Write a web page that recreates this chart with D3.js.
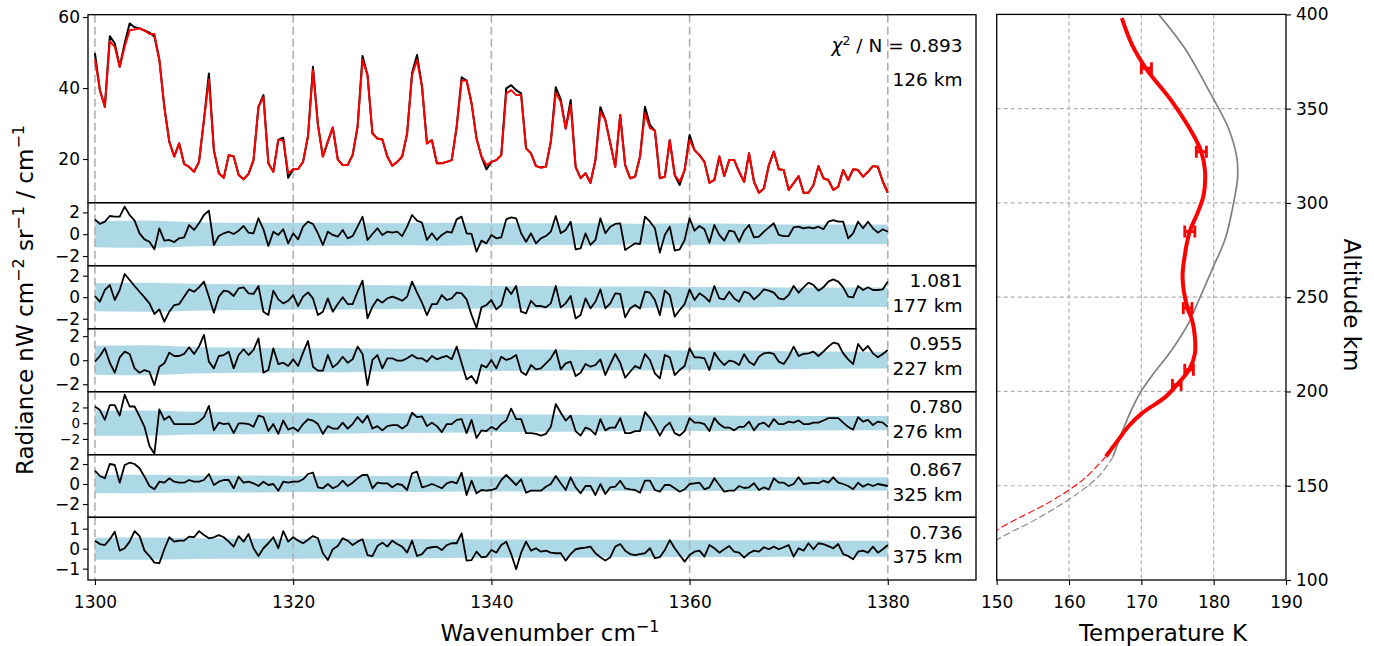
<!DOCTYPE html>
<html><head><meta charset="utf-8">
<script src="https://cdn.jsdelivr.net/npm/d3@7"></script>
<style>body{margin:0;background:#fff}svg text{font-family:"DejaVu Sans",sans-serif;fill:#000}</style>
</head><body>
<svg id="c" width="1374" height="646"></svg>
<script>
// ---------------- DATA ----------------
const startWavenumber = 1300, stepWavenumber = 0.5;
const gridWavenumbers = [1300, 1320, 1340, 1360, 1380];
const observed126 = [49.8,39.4,34.7,54.6,52.6,46.0,52.6,58.2,57.1,56.8,
56.2,55.6,54.5,47.9,34.7,24.9,20.7,24.4,18.6,17.8,
16.4,19.2,31.0,44.1,22.5,16.0,14.7,21.1,20.7,15.5,
14.3,15.8,19.7,34.7,38.0,18.8,16.4,25.4,26.0,14.7,
17.1,17.2,19.2,26.5,46.0,29.6,20.7,24.9,28.9,19.9,
18.3,18.3,21.1,29.1,49.0,43.7,27.2,25.8,25.5,20.7,
18.1,19.2,20.7,27.2,44.3,49.3,40.4,24.4,25.3,18.8,
18.8,19.2,19.7,29.1,43.0,42.1,35.7,25.8,20.7,17.1,
19.2,19.7,21.1,39.9,40.8,39.4,38.5,23.0,21.6,18.0,
17.6,17.8,24.9,40.2,36.8,28.6,36.6,17.8,14.6,16.0,
13.3,19.7,34.6,31.0,24.4,17.8,32.4,18.3,14.6,15.0,
20.7,34.7,29.6,28.0,14.6,15.0,25.3,15.5,12.7,16.9,
26.8,22.5,21.1,19.2,13.3,14.1,20.7,15.2,19.7,19.7,
16.4,13.6,21.6,13.6,10.5,11.7,18.3,22.1,17.1,16.9,
11.3,13.2,15.2,10.5,10.5,12.7,18.0,14.6,14.1,11.3,
12.2,16.9,14.1,17.1,16.9,15.0,16.4,18.0,17.8,13.6,
10.5];
const model126 = [48.1,39.4,34.7,53.2,51.6,46.0,51.6,56.3,56.5,56.8,
56.2,55.2,55.2,47.9,34.7,24.9,20.7,24.4,18.6,17.8,
16.4,19.2,31.0,42.3,22.5,16.0,14.7,21.1,20.7,15.5,
14.3,15.8,19.7,34.7,37.4,18.8,16.4,25.4,25.2,16.0,
17.1,17.2,19.2,26.5,45.1,29.6,20.7,24.9,28.9,19.9,
18.3,18.3,21.1,29.1,47.9,43.7,27.2,25.8,25.5,20.7,
18.1,19.2,20.7,27.2,43.7,47.9,40.4,24.4,25.3,18.8,
18.8,19.2,19.7,29.1,42.1,42.1,35.7,25.8,20.7,18.3,
19.2,19.7,21.1,38.5,39.4,38.0,38.0,23.0,21.6,18.0,
17.6,17.8,24.9,38.7,36.1,28.6,35.2,17.8,14.6,16.0,
13.3,19.7,33.3,31.0,24.4,17.8,32.4,18.3,14.6,15.0,
20.7,32.9,28.7,28.0,14.6,15.0,25.3,15.5,13.6,16.9,
25.4,22.5,21.1,19.2,13.3,14.1,20.7,15.2,19.7,19.7,
16.4,13.6,21.6,13.6,10.5,11.7,18.3,22.1,17.1,16.9,
11.3,13.2,15.2,10.5,10.5,12.7,18.0,14.6,14.1,11.3,
12.2,16.9,14.1,17.1,16.9,15.0,16.4,18.0,17.8,13.6,
10.5];

const resid126 = [1.36,0.94,1.15,1.67,1.61,1.61,2.53,1.76,1.24,0.08,
-0.47,-0.69,-1.39,0.54,-0.59,-0.53,-0.72,-0.38,-0.29,0.84,
0.39,1.0,1.76,2.16,-0.99,-0.17,0.08,0.23,0.02,0.32,
0.75,0.14,0.08,1.46,0.45,-1.08,0.23,-0.07,0.45,-0.84,
0.08,-0.47,0.69,1.15,
0.94,0.08,-0.99,0.23,-0.07,-0.23,0.39,-0.38,-0.17,0.69,
1.61,-0.53,0.02,0.54,-0.07,0.23,0.14,0.23,-0.17,0.69,
1.76,1.24,1.06,-0.53,0.08,-0.53,-0.07,0.23,0.14,1.36,
1.61,0.08,0.02,-1.6,-0.59,-0.84,-0.07,-0.38,-0.29,1.36,
1.55,1.46,0.08,-0.69,
0.08,-0.84,-0.38,-0.17,0.23,1.67,0.08,0.39,1.15,-1.39,
-1.3,0.08,-0.99,-0.53,1.46,0.08,0.69,0.94,1.0,-1.45,
-1.14,-0.84,-0.9,1.61,1.15,0.54,-1.69,-0.07,0.69,-1.51,
-1.39,-0.53,1.46,0.32,0.75,0.45,-0.78,0.84,-0.07,-0.59,
0.32,0.23,-0.69,0.3,
0.84,-0.29,-0.23,0.23,0.63,1.0,-0.07,-0.17,-0.17,0.63,
0.69,0.54,0.63,0.54,0.69,0.45,1.15,1.3,1.15,1.15,
-0.38,0.08,1.15,0.54,1.15,0.54,0.14,0.45,0.23];
const resid177 = [0.11,-0.42,0.67,1.13,-0.26,0.67,2.16,1.6,1.04,0.51,
-0.01,-0.57,-1.56,-1.13,-2.28,-1.35,-0.73,-0.64,0.05,0.73,
0.51,0.92,1.45,0.05,-1.44,0.05,0.61,0.51,0.11,0.82,
0.92,0.36,0.3,1.04,-1.35,-1.66,0.61,-0.2,-0.57,-0.33,
0.2,-0.82,0.05,0.45,
-0.11,-1.66,-1.35,-0.11,-1.35,-0.64,-0.01,-0.64,-0.64,0.51,
1.54,-1.97,-0.88,-0.2,-0.51,-0.11,0.05,-0.11,-0.33,0.05,
1.45,0.42,-0.51,-1.66,-0.64,-0.64,0.2,-0.26,-0.11,0.42,
0.36,-0.2,-1.66,-2.84,-0.95,-0.73,-0.26,-1.13,-0.73,0.92,
0.3,1.04,-1.35,-1.5,
-0.33,-0.82,-0.82,-0.95,-0.57,1.04,-0.95,-0.57,0.11,-1.97,
-1.66,-0.11,-1.04,-0.42,0.73,-1.04,-0.57,0.36,0.3,-1.88,
-1.04,-0.73,-1.04,0.51,0.42,-0.26,-1.66,0.61,0.2,-1.81,
-1.19,-0.64,0.73,-0.26,0.36,0.05,-0.42,1.04,-0.11,-0.2,
0.51,-0.11,-0.42,0.51,
0.36,-0.2,0.2,0.73,0.61,0.42,-0.11,-0.2,0.2,1.04,
0.42,0.92,1.35,1.13,0.61,0.92,1.45,1.66,1.45,0.92,
0.05,-0.01,1.04,0.67,0.92,0.67,0.67,0.73,1.45];
const resid227 = [-0.12,0.35,0.99,-0.21,-1.04,0.24,0.71,0.52,-0.68,-1.04,
-0.82,-0.96,-2.07,-0.54,-0.26,0.63,0.35,0.35,0.52,1.07,
0.52,1.13,2.1,-0.12,-0.68,0.35,0.43,0.71,-0.68,0.43,
0.91,0.43,0.85,1.82,-1.04,-0.82,0.99,-0.32,-0.21,-0.48,
0.07,-0.48,0.63,1.6,
-0.54,-0.87,-0.87,0.43,-0.6,-0.26,0.29,-0.21,0.07,1.13,
0.52,-2.07,0.02,0.43,-0.68,0.16,0.16,-0.04,-0.04,0.16,
0.43,0.16,0.16,-0.12,0.35,0.07,0.24,0.35,0.07,1.13,
-0.26,-1.6,-1.32,-1.93,-0.4,-0.6,0.02,-0.68,0.29,0.02,
0.16,0.43,-0.96,-1.23,
-0.4,-0.76,-0.68,-0.26,0.16,0.85,-0.76,-0.26,-0.12,-1.32,
-1.04,-0.32,-0.54,-0.4,0.07,-1.23,-0.32,0.52,-0.21,-1.46,
-0.96,-0.48,-0.68,0.52,0.02,-1.1,-1.52,0.43,0.24,-1.23,
-0.82,-0.48,0.99,0.24,0.24,0.16,-0.82,0.63,0.02,-0.4,
-0.04,-0.12,-0.4,0.5,
-0.12,-0.4,0.29,0.57,0.63,0.52,-0.12,-0.32,0.29,1.13,
0.35,0.52,0.57,0.71,0.35,0.71,1.13,1.46,1.35,0.57,
0.07,-0.32,1.35,0.79,1.18,0.57,0.24,0.52,0.85];
const resid276 = [2.12,1.67,0.43,2.29,2.29,0.96,3.63,2.12,2.12,0.87,
-0.46,-2.9,-3.88,1.76,0.43,0.87,-0.11,-0.11,-0.11,-0.11,
-0.11,0.2,0.78,2.2,-0.91,0.07,-0.11,-0.02,-1.26,-0.02,
-0.02,-0.11,-0.46,0.96,0.78,-1.0,-0.11,-1.36,0.34,-0.82,
-0.55,-1.0,-0.11,0.5,
0.34,-0.11,-1.36,-0.37,-0.68,-0.68,0.07,-0.68,-0.11,0.78,
0.07,0.96,-0.68,-0.37,-0.91,-0.37,-0.24,-0.24,-0.68,-0.24,
1.32,0.78,0.87,-0.37,0.07,-0.37,-1.13,-0.11,-0.11,0.43,
0.52,-1.26,0.43,-1.88,-0.91,-1.0,-0.46,-0.82,-0.11,0.34,
1.85,0.52,0.52,-1.26,
-1.26,-1.36,-1.58,-1.36,-0.46,2.43,1.32,0.34,0.96,-1.0,
-1.58,-0.55,-0.82,-1.44,0.52,-0.91,-0.55,-0.55,0.65,-1.26,
-1.26,-1.0,-1.0,1.41,0.65,-0.37,-1.58,-0.46,0.07,-1.26,
-1.58,-1.0,0.65,0.07,0.07,-0.11,-1.0,0.65,-0.11,-0.55,
-0.55,-0.91,-0.46,-0.45,
0.2,-0.91,-0.11,0.07,-0.46,0.52,-0.11,-0.11,0.2,0.07,
0.34,-0.11,-0.11,0.07,0.07,0.34,0.65,0.65,0.65,0.07,
-0.46,-0.82,0.78,0.2,0.43,-0.24,0.2,0.07,-0.46];
const resid325 = [1.33,0.8,0.57,2.0,1.9,0.13,1.9,2.13,2.0,1.57,
0.73,-0.2,-0.53,0.23,0.13,0.57,0.23,0.13,0.13,0.4,
0.23,0.23,0.4,1.0,-0.1,0.23,0.4,0.4,-0.43,0.73,
0.13,0.23,0.07,-0.2,0.23,-0.1,0.0,-0.67,0.23,0.13,
0.23,0.23,0.47,1.0,
1.13,-0.33,-0.43,0.0,-0.43,-0.2,0.33,-0.2,0.13,0.57,
0.9,0.9,-0.43,0.13,0.07,0.07,-0.33,0.0,-0.1,-0.6,
1.07,1.23,-0.33,-0.2,0.0,-0.2,-0.43,0.07,0.23,0.07,
1.13,-1.1,0.33,-0.93,-0.6,-0.67,-0.6,-0.43,0.4,0.9,
0.4,-0.1,0.47,-0.87,
-0.67,-0.67,-0.67,-0.27,0.0,0.8,0.07,-0.6,0.67,-0.33,
-0.93,-0.2,-0.2,-1.1,0.0,-1.0,-0.33,-0.27,0.33,-0.43,
-0.53,-0.6,-0.87,0.33,0.33,-0.6,-0.77,-0.1,-0.1,-0.43,
-0.77,-0.53,0.0,0.07,0.13,-0.53,-0.33,0.57,-0.1,-0.77,
-0.67,-0.67,-0.2,-0.4,
-0.33,0.07,-0.6,-0.33,-0.53,0.57,0.13,0.13,-0.2,0.0,
0.67,0.0,0.07,0.13,0.07,0.33,0.13,0.67,0.13,0.0,
-0.2,-0.53,0.13,-0.27,0.0,-0.2,0.0,-0.1,-0.2];
const resid375 = [0.4,0.23,0.18,0.47,0.85,-0.1,0.02,0.35,0.88,0.63,
-0.1,-0.37,-0.7,-0.73,-0.03,0.57,0.35,0.4,0.4,0.6,
0.57,0.88,0.68,0.52,0.57,0.68,0.57,0.35,0.1,0.63,
0.35,0.73,0.02,-0.37,0.02,0.27,0.57,0.02,0.88,0.35,
0.57,0.4,0.27,0.45,
0.63,0.52,-0.23,-0.57,-0.03,0.13,0.52,0.4,0.18,0.35,
0.47,-0.32,-0.37,0.13,0.3,0.1,0.4,0.23,0.1,-0.2,
0.4,-0.37,-0.27,0.02,0.07,0.1,-0.07,0.18,0.27,0.27,
0.77,-0.6,-0.57,-0.15,-0.43,-0.4,-0.07,-0.2,0.18,0.35,
-0.27,-1.03,-0.2,0.35,
-0.1,0.02,-0.15,-0.1,-0.2,-0.23,-0.23,-0.6,-0.27,-0.03,
0.02,0.05,0.1,-0.23,-0.43,-0.6,-0.43,0.1,0.23,-0.1,
-0.27,-0.32,-0.27,-0.23,0.02,-0.48,-0.43,-0.07,0.43,0.02,
-0.32,-0.65,-0.32,-0.15,-0.1,-0.4,0.18,0.02,-0.2,-0.03,
0.13,-0.15,-0.2,-0.45,
-0.23,-0.1,-0.15,0.07,-0.03,0.1,-0.03,0.07,0.18,-0.4,
0.02,-0.1,0.27,-0.03,0.27,0.23,0.13,0.02,0.23,-0.27,
-0.37,-0.53,-0.15,-0.1,-0.2,0.1,-0.2,-0.03,0.18];

// noise (1-sigma) envelopes, sampled every 5 cm-1
const bandWavenumbers = [1300,1305,1310,1315,1320,1325,1330,1335,1340,1345,1350,1355,1360,1365,1370,1375,1380];
const band126 = [1.2,1.25,1.1,1.05,1.05,1.05,1.0,1.05,1.0,1.0,1.0,0.95,1.0,0.95,0.9,0.9,0.9];
const band177 = [1.3,1.35,1.25,1.2,1.15,1.15,1.1,1.1,1.05,1.05,1.0,1.0,0.95,0.95,0.9,0.9,0.9];
const band227 = [1.2,1.25,1.1,1.05,1.0,1.0,0.95,0.95,0.9,0.9,0.85,0.85,0.8,0.8,0.75,0.72,0.7];
const band276 = [1.6,1.6,1.45,1.4,1.35,1.3,1.25,1.2,1.15,1.1,1.05,1.0,1.0,0.95,0.95,0.9,0.9];
const band325 = [0.9,0.92,0.85,0.85,0.8,0.8,0.8,0.78,0.75,0.75,0.72,0.7,0.7,0.7,0.68,0.67,0.67];
const band375 = [0.55,0.56,0.52,0.5,0.5,0.48,0.48,0.47,0.46,0.45,0.44,0.43,0.42,0.42,0.41,0.4,0.4];

const chiLabels = ["0.893","1.081","0.955","0.780","0.867","0.736"];
const altitudeLabels = ["126 km","177 km","227 km","276 km","325 km","375 km"];
const topTicks = [20,40,60];
const residTicks = [[-2,0,2],[-2,0,2],[-2,0,2],[-2,0,2],[-2,0,2],[-1,0,1]];
const wavenumberTicks = [1300,1320,1340,1360,1380];

// temperature profiles: [altitude km, temperature K]
const retrievedAlt = [398,384,371,354,336,327,317,304,294,285,272,260,244,238,229,220,211.5,203.5,197,188.5,181.4,174.3,165.5];
const retrievedT   = [167.3,168.7,170.7,174.2,177.2,178.3,178.8,178.6,177.7,176.7,176.0,175.7,176.4,177.0,177.4,177.4,176.6,174.9,173.3,170.1,168.2,166.8,165.1];
const retrievedExtAlt = [165.5,154,147.5,140,132.8,126.2,122];
const retrievedExtT   = [165.1,162.2,159.9,156.7,153.0,150.0,149.0];
const prioriAlt = [400,382,357,340,324,313,299,281,264,248,236,222,208,199,190,180,165.5];
const prioriT   = [172.4,176.0,179.7,182.0,183.2,183.3,182.7,181.6,179.7,177.9,176.5,174.2,171.4,169.8,168.6,167.5,166.1];
const prioriExtAlt = [165.5,156.7,148.7,142.5,131.9,121.3,117];
const prioriExtT   = [166.1,164.5,162.2,159.9,155.3,150.0,148.5];
const errAlt = [371.4,327.2,284.8,244.2,211.5,203.5];
const errT   = [170.7,178.3,176.7,176.4,176.6,174.9];
const errSigma = [0.7,0.7,0.7,0.6,0.6,0.6];
const tempTicks = [150,160,170,180,190];
const altTicks = [100,150,200,250,300,350,400];

// ---------------- LAYOUT ----------------
const svg = d3.select("#c");
const TICKFS = 17, LABELFS = 23, ANNFS = 18.5;
const residTickFS = [17, 17, 17, 13.5, 17, 17];
const L = {x0:88, x1:976, top:14.7, topBottom:202.7,
  panelTops:[202.7,265.7,328.7,391.7,454.7,517.3], bottom:580};
const residDomains = [[-2.89,2.89],[-2.93,2.93],[-2.62,2.62],[-4.0,4.0],[-3.33,2.93],[-1.57,1.57]];
const wn = observed126.map((_, i) => startWavenumber + stepWavenumber * i);
const x = d3.scaleLinear().domain([1299.3, 1388.9]).range([L.x0, L.x1]);

const defs = svg.append("defs");
let clipId = 0;
function clip(x0, y0, w, h) {
  const id = "clip" + (clipId++);
  defs.append("clipPath").attr("id", id).append("rect").attr("x", x0).attr("y", y0).attr("width", w).attr("height", h);
  return "url(#" + id + ")";
}
function frame(g, x0, y0, w, h) {
  g.append("rect").attr("x", x0).attr("y", y0).attr("width", w).attr("height", h)
    .attr("fill", "none").attr("stroke", "#000").attr("stroke-width", 1.3);
}
function styleAxis(g, fs) {
  g.select(".domain").remove();
  g.selectAll(".tick line").attr("stroke", "#000").attr("stroke-width", 1.1);
  g.selectAll(".tick text").attr("font-size", fs || TICKFS).attr("font-family", "DejaVu Sans").attr("fill", "#000");
}
function vgrid(g, y0, y1) {
  g.selectAll(null).data(gridWavenumbers).enter().append("line")
    .attr("x1", d => x(d)).attr("x2", d => x(d)).attr("y1", y0).attr("y2", y1)
    .attr("stroke", "#b0b0b0").attr("stroke-width", 1.6).attr("stroke-dasharray", "8,4");
}

// ---- top spectrum panel ----
const yTop = d3.scaleLinear().domain([7.7, 60.65]).range([L.topBottom, L.top]);
const gTop = svg.append("g");
const gTopC = gTop.append("g").attr("clip-path", clip(L.x0, L.top, L.x1 - L.x0, L.topBottom - L.top));
vgrid(gTopC, L.top, L.topBottom);
const lineTop = d3.line().x((d, i) => x(wn[i])).y(d => yTop(d));
gTopC.append("path").attr("d", lineTop(observed126)).attr("fill", "none").attr("stroke", "#000").attr("stroke-width", 2).attr("stroke-linejoin", "round");
gTopC.append("path").attr("d", lineTop(model126)).attr("fill", "none").attr("stroke", "#ff0000").attr("stroke-width", 2).attr("stroke-linejoin", "round");
gTop.append("g").attr("transform", `translate(${L.x0},0)`)
  .call(d3.axisLeft(yTop).tickValues(topTicks).tickSize(5).tickPadding(3).tickFormat(d3.format("d")))
  .call(styleAxis);
frame(gTop, L.x0, L.top, L.x1 - L.x0, L.topBottom - L.top);
const chiText = gTop.append("text").attr("x", 962.5).attr("y", 51.7).attr("text-anchor", "end").attr("font-size", ANNFS);
chiText.append("tspan").attr("font-style", "italic").text("χ");
chiText.append("tspan").attr("dy", -7).attr("font-size", 12.5).text("2");
chiText.append("tspan").attr("dy", 7).text(" / N = " + chiLabels[0]);
gTop.append("text").attr("x", 962.5).attr("y", 86).attr("text-anchor", "end").attr("font-size", ANNFS).text(altitudeLabels[0]);

// ---- residual panels ----
const residSeries = [resid126, resid177, resid227, resid276, resid325, resid375];
const bandSeries = [band126, band177, band227, band276, band325, band375];
residSeries.forEach((res, p) => {
  const y0 = L.panelTops[p];
  const y1 = p < 5 ? L.panelTops[p + 1] : L.bottom;
  const y = d3.scaleLinear().domain(residDomains[p]).range([y1, y0]);
  const g = svg.append("g");
  const gc = g.append("g").attr("clip-path", clip(L.x0, y0, L.x1 - L.x0, y1 - y0));
  const band = bandSeries[p];
  const area = d3.area().curve(d3.curveMonotoneX)
    .x((d, i) => x(bandWavenumbers[i])).y0(d => y(-d)).y1(d => y(d));
  gc.append("path").attr("d", area(band)).attr("fill", "#add8e6").attr("stroke", "none");
  vgrid(gc, y0, y1);
  const line = d3.line().x((d, i) => x(wn[i])).y(d => y(d));
  gc.append("path").attr("d", line(res)).attr("fill", "none").attr("stroke", "#000").attr("stroke-width", 1.8).attr("stroke-linejoin", "round");
  g.append("g").attr("transform", `translate(${L.x0},0)`)
    .call(d3.axisLeft(y).tickValues(residTicks[p]).tickSize(5).tickPadding(3).tickFormat(d => d < 0 ? "\u2212" + Math.abs(d) : d))
    .call(styleAxis, residTickFS[p]);
  frame(g, L.x0, y0, L.x1 - L.x0, y1 - y0);
  if (p > 0) {
    g.append("text").attr("x", 962.5).attr("y", y0 + 21.6).attr("text-anchor", "end").attr("font-size", ANNFS).text(chiLabels[p]);
    g.append("text").attr("x", 962.5).attr("y", y0 + 46).attr("text-anchor", "end").attr("font-size", ANNFS).text(altitudeLabels[p]);
  }
  if (p === 5) {
    g.append("g").attr("transform", `translate(0,${L.bottom})`)
      .call(d3.axisBottom(x).tickValues(wavenumberTicks).tickSize(5).tickPadding(11).tickFormat(d3.format("d")))
      .call(styleAxis);
  }
});

// axis titles (left figure)
const xt = svg.append("text").attr("x", 550).attr("y", 641).attr("text-anchor", "middle").attr("font-size", LABELFS);
xt.append("tspan").text("Wavenumber cm");
xt.append("tspan").attr("dy", -9).attr("font-size", 16).text("\u22121");
const yt = svg.append("text").attr("transform", "translate(33,300) rotate(-90)").attr("text-anchor", "middle").attr("font-size", LABELFS);
yt.append("tspan").text("Radiance nW cm");
yt.append("tspan").attr("dy", -9).attr("font-size", 16).text("\u22122");
yt.append("tspan").attr("dy", 9).text(" sr");
yt.append("tspan").attr("dy", -9).attr("font-size", 16).text("\u22121");
yt.append("tspan").attr("dy", 9).text(" / cm");
yt.append("tspan").attr("dy", -9).attr("font-size", 16).text("\u22121");

// ---- temperature panel ----
const R = {x0:996.7, x1:1286, y0:14.4, y1:580};
const tX = d3.scaleLinear().domain([150, 190]).range([R.x0, R.x1]);
const aY = d3.scaleLinear().domain([100, 400]).range([R.y1, R.y0]);
const gR = svg.append("g");
const gRC = gR.append("g").attr("clip-path", clip(R.x0, R.y0, R.x1 - R.x0, R.y1 - R.y0));
gRC.selectAll(null).data(tempTicks.slice(1, -1)).enter().append("line")
  .attr("x1", d => tX(d)).attr("x2", d => tX(d)).attr("y1", R.y0).attr("y2", R.y1)
  .attr("stroke", "#b0b0b0").attr("stroke-width", 1.2).attr("stroke-dasharray", "4,3");
gRC.selectAll(null).data(altTicks.slice(1, -1)).enter().append("line")
  .attr("x1", R.x0).attr("x2", R.x1).attr("y1", d => aY(d)).attr("y2", d => aY(d))
  .attr("stroke", "#b0b0b0").attr("stroke-width", 1.2).attr("stroke-dasharray", "4,3");
const prof = d3.line().curve(d3.curveCatmullRom).x(d => tX(d[1])).y(d => aY(d[0]));
const zip = (a, b) => a.map((v, i) => [v, b[i]]);
gRC.append("path").attr("d", prof(zip(prioriExtAlt, prioriExtT))).attr("fill", "none").attr("stroke", "#808080").attr("stroke-width", 1.1).attr("stroke-dasharray", "7,3");
gRC.append("path").attr("d", prof(zip(prioriAlt, prioriT))).attr("fill", "none").attr("stroke", "#808080").attr("stroke-width", 1.7);
gRC.append("path").attr("d", prof(zip(retrievedExtAlt, retrievedExtT))).attr("fill", "none").attr("stroke", "#ff0000").attr("stroke-width", 1.1).attr("stroke-dasharray", "7,3");
gRC.append("path").attr("d", prof(zip(retrievedAlt, retrievedT))).attr("fill", "none").attr("stroke", "#ff0000").attr("stroke-width", 4).attr("stroke-linejoin", "round");
errAlt.forEach((a, i) => {
  const yy = aY(a), xl = tX(errT[i] - errSigma[i]), xr = tX(errT[i] + errSigma[i]);
  gRC.append("line").attr("x1", xl).attr("x2", xr).attr("y1", yy).attr("y2", yy).attr("stroke", "#ff0000").attr("stroke-width", 3);
  [xl, xr].forEach(xx => gRC.append("line").attr("x1", xx).attr("x2", xx).attr("y1", yy - 6).attr("y2", yy + 6).attr("stroke", "#ff0000").attr("stroke-width", 2.8));
});
gR.append("g").attr("transform", `translate(0,${R.y1})`)
  .call(d3.axisBottom(tX).tickValues(tempTicks).tickSize(5).tickPadding(11).tickFormat(d3.format("d")))
  .call(styleAxis);
gR.append("g").attr("transform", `translate(${R.x1},0)`)
  .call(d3.axisRight(aY).tickValues(altTicks).tickSize(5).tickPadding(5).tickFormat(d3.format("d")))
  .call(styleAxis);
frame(gR, R.x0, R.y0, R.x1 - R.x0, R.y1 - R.y0);
svg.append("text").attr("x", 1163).attr("y", 641).attr("text-anchor", "middle").attr("font-size", LABELFS).text("Temperature K");
svg.append("text").attr("transform", "translate(1344,305) rotate(90)").attr("text-anchor", "middle").attr("font-size", LABELFS).text("Altitude km");
</script>
</body></html>
